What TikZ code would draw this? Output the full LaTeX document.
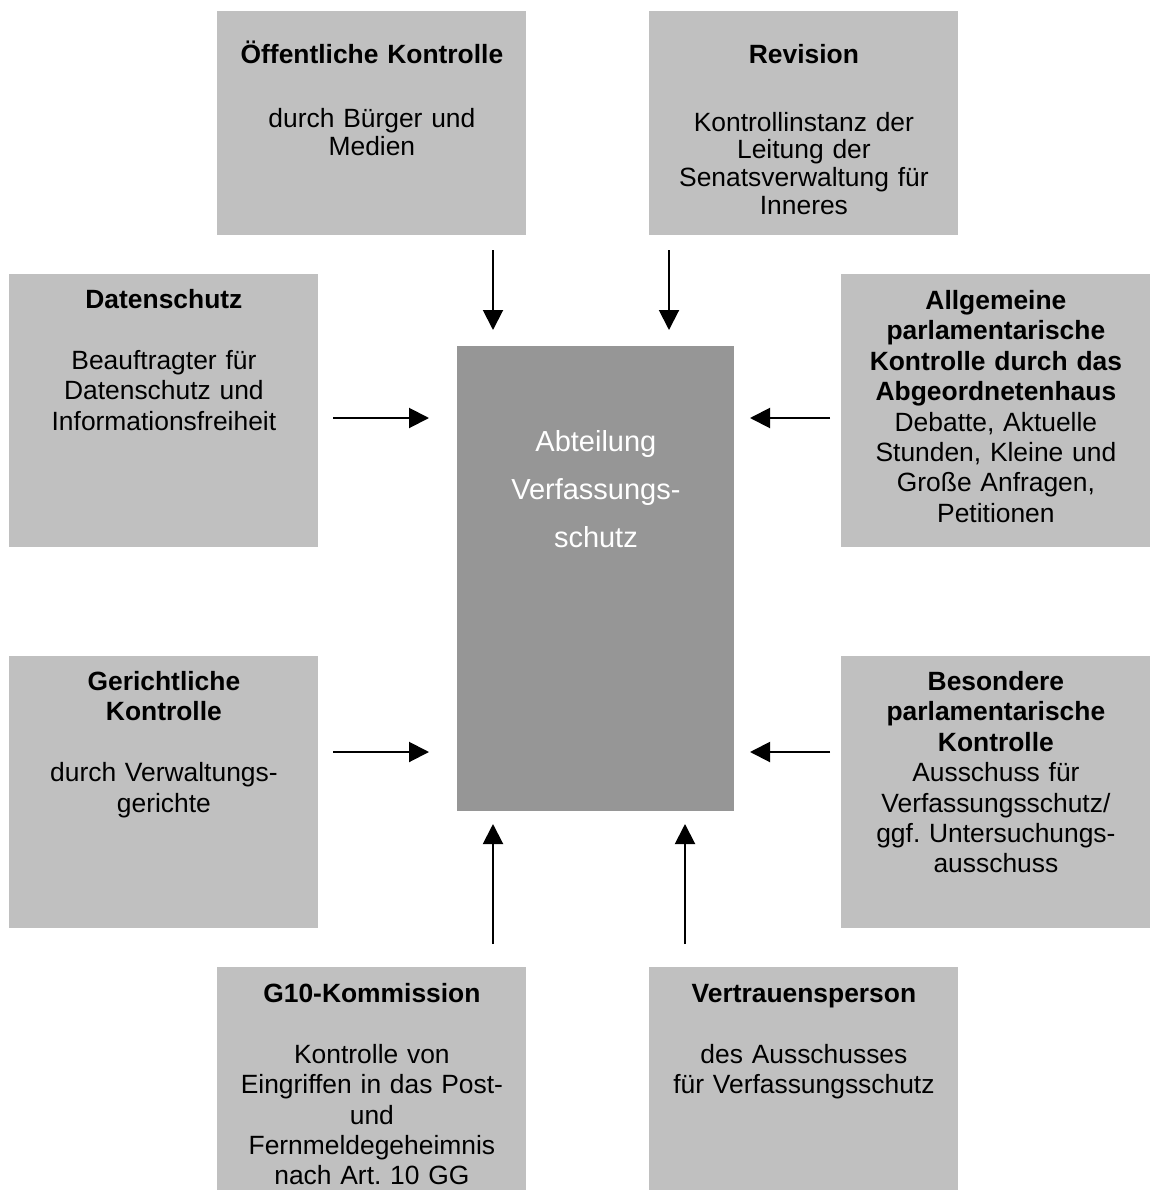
\documentclass[tikz,border=0pt]{standalone}
\usepackage{fontspec}
\setmainfont{Liberation Sans}
\usepackage{tikz}
\usepackage{xcolor}
\usetikzlibrary{arrows.meta}
\frenchspacing
\definecolor{Hellgrau}{RGB}{192,192,192}
\definecolor{Dunkelgrau}{RGB}{150,150,150}
\tikzset{
Kasten/.style={
 fill=Hellgrau, 
 anchor=north west, 
 inner xsep=0pt, 
 inner ysep=0pt, 
 text width=154.5pt, 
 align=center, 
 font=\fontsize{13.2}{15.2}\selectfont
 },
KastenOben/.style={
 Kasten, 
 font=\fontsize{13.2}{13.8}\selectfont
 },
MitteKasten/.style={
 fill=Dunkelgrau, 
 text=white, 
 anchor=north west, 
 inner xsep=0pt, 
 inner ysep=0pt, 
 text width=138.5pt, 
 align=center, 
 font=\fontsize{14.5}{24}\selectfont
 },
Pfeil/.style={
 draw=black, 
 line width=1pt, 
 -{Triangle[width=10pt,length=10pt]}
 }
}

\begin{document}
\begin{tikzpicture}[x=0.5pt,y=-0.5pt]
\useasboundingbox (0,0) rectangle (1156,1198);
% Kaesten
\node[MitteKasten,text height=52.4pt,text depth=180.1pt] (abt) at (457,346)
 {Abteilung\\ Verfassungs-\\ schutz};
\node[KastenOben,text height=26pt,text depth=86pt] (oef) at (217,11)
 {\textbf{Öffentliche Kontrolle}\\[18.5pt] durch Bürger und\\ Medien};
\node[KastenOben,text height=26pt,text depth=86pt] (rev) at (649,11)
 {\textbf{Revision}\\[20.2pt] Kontrollinstanz der\\ Leitung der\\ Senatsverwaltung für\\ Inneres};
\node[Kasten,text height=17pt,text depth=119.5pt] (dat) at (9,274)
 {\textbf{Datenschutz}\\[15.2pt] Beauftragter für\\ Datenschutz und\\ Informationsfreiheit};
\node[Kasten,text height=17.5pt,text depth=119pt] (apk) at (841,274)
 {{\bfseries Allgemeine\\ parlamentarische\\ Kontrolle durch das\\ Abgeordnetenhaus}\\ Debatte, Aktuelle\\ Stunden, Kleine und\\ Große Anfragen,\\ Petitionen};
\node[Kasten,text height=17pt,text depth=119pt] (ger) at (9,656)
 {{\bfseries Gerichtliche\\ Kontrolle}\\[15.2pt] durch Verwaltungs-\\ gerichte};
\node[Kasten,text height=17pt,text depth=119pt] (bpk) at (841,656)
 {{\bfseries Besondere\\ parlamentarische\\ Kontrolle}\\ Ausschuss für\\ Verfassungsschutz/\\ ggf. Untersuchungs-\\ ausschuss};
\node[Kasten,text height=17.5pt,text depth=94pt] (gzk) at (217,967)
 {\textbf{G10-Kommission}\\[15.2pt] Kontrolle von\\ Eingriffen in das Post-\\ und\\ Fernmeldegeheimnis\\ nach Art. 10 GG};
\node[Kasten,text height=17.5pt,text depth=94pt] (vtp) at (649,967)
 {\textbf{Vertrauensperson}\\[15.2pt] des Ausschusses\\ für Verfassungsschutz};
% Pfeile
\coordinate (oef-a) at (493,250);
\coordinate (oef-b) at (493,330);
\coordinate (rev-a) at (669,250);
\coordinate (rev-b) at (669,330);
\coordinate (dat-a) at (333,418);
\coordinate (dat-b) at (429,418);
\coordinate (apk-a) at (830,418);
\coordinate (apk-b) at (750,418);
\coordinate (ger-a) at (333,752);
\coordinate (ger-b) at (429,752);
\coordinate (bpk-a) at (830,752);
\coordinate (bpk-b) at (750,752);
\coordinate (gzk-a) at (493,944);
\coordinate (gzk-b) at (493,824);
\coordinate (vtp-a) at (685,944);
\coordinate (vtp-b) at (685,824);
\draw[Pfeil] (oef-a) -- (oef-b);
\draw[Pfeil] (rev-a) -- (rev-b);
\draw[Pfeil] (dat-a) -- (dat-b);
\draw[Pfeil] (apk-a) -- (apk-b);
\draw[Pfeil] (ger-a) -- (ger-b);
\draw[Pfeil] (bpk-a) -- (bpk-b);
\draw[Pfeil] (gzk-a) -- (gzk-b);
\draw[Pfeil] (vtp-a) -- (vtp-b);
\end{tikzpicture}
\end{document}
